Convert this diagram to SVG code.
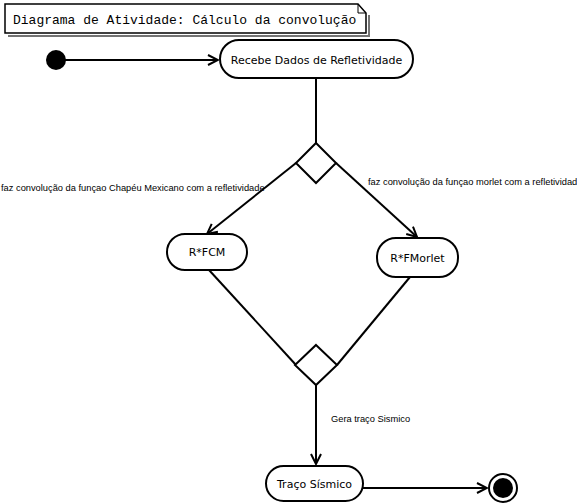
<svg xmlns="http://www.w3.org/2000/svg" width="577" height="503" viewBox="0 0 577 503">
<style>
.node{fill:#fff;stroke:#000;stroke-width:2}
.lbl{font-family:"DejaVu Sans",Verdana,sans-serif;font-size:11px;fill:#000;text-anchor:middle}
.small{font-family:"Liberation Sans",Arial,sans-serif;font-size:9.3px;fill:#000}
.edge{fill:none;stroke:#000;stroke-width:2}
</style>
<defs>
<marker id="arr" viewBox="0 0 12 12" refX="11" refY="6" markerWidth="12" markerHeight="12" markerUnits="userSpaceOnUse" orient="auto">
<path d="M1,1 L11,6 L1,11" fill="none" stroke="#000" stroke-width="2"/>
</marker>
</defs>
<rect width="577" height="503" fill="#fff"/>
<g id="note">
<path d="M369,15 V36 H8" fill="none" stroke="#000" stroke-width="2" opacity="0.55"/>
<path d="M5,4 H358 L366,13 V33 H5 Z" fill="#fff" stroke="#000" stroke-width="1.5"/>
<path d="M358,4 V13 H366" fill="none" stroke="#000" stroke-width="1"/>
<text x="13" y="24" font-family="'Liberation Mono','Courier New',monospace" font-size="13">Diagrama de Atividade: Cálculo da convolução</text>
</g>
<g id="edges">
<line class="edge" x1="64" y1="60" x2="218" y2="60" marker-end="url(#arr)"/>
<line class="edge" x1="316" y1="78" x2="316" y2="144"/>
<line class="edge" x1="296" y1="163" x2="207" y2="234" marker-end="url(#arr)"/>
<line class="edge" x1="336" y1="163" x2="417" y2="237" marker-end="url(#arr)"/>
<line class="edge" x1="209" y1="270" x2="296" y2="365"/>
<line class="edge" x1="410" y1="277" x2="337" y2="365"/>
<line class="edge" x1="316" y1="385" x2="316" y2="464" marker-end="url(#arr)"/>
<line class="edge" x1="363" y1="488" x2="487" y2="488" marker-end="url(#arr)"/>
<text class="small" x="1" y="191">faz convolução da funçao Chapéu Mexicano  com a refletividade</text>
<text class="small" x="368" y="185">faz convolução da funçao morlet com a refletividad</text>
<text class="small" x="331" y="422">Gera traço Sismico</text>
</g>
<g id="start"><circle cx="56" cy="60" r="10" fill="#000"/></g>
<g id="recebe">
<rect class="node" x="220" y="40" width="193" height="38" rx="19"/>
<text class="lbl" x="316.5" y="64">Recebe Dados de Refletividade</text>
</g>
<g id="decision1"><path class="node" d="M316,143 L336,163 L316,183 L296,163 Z"/></g>
<g id="fcm">
<rect class="node" x="167" y="234" width="80" height="36" rx="18"/>
<text class="lbl" x="207" y="256">R*FCM</text>
</g>
<g id="fmorlet">
<rect class="node" x="377" y="238" width="81" height="39" rx="19"/>
<text class="lbl" x="417.5" y="262">R*FMorlet</text>
</g>
<g id="decision2"><path class="node" d="M316,345 L337,365 L316,385 L295,365 Z"/></g>
<g id="traco">
<rect class="node" x="266" y="466" width="97" height="35" rx="17.5"/>
<text class="lbl" x="314.5" y="488">Traço Sísmico</text>
</g>
<g id="end">
<circle cx="503" cy="488" r="14" fill="#fff" stroke="#000" stroke-width="2"/>
<circle cx="503" cy="488" r="10" fill="#000"/>
</g>
</svg>
